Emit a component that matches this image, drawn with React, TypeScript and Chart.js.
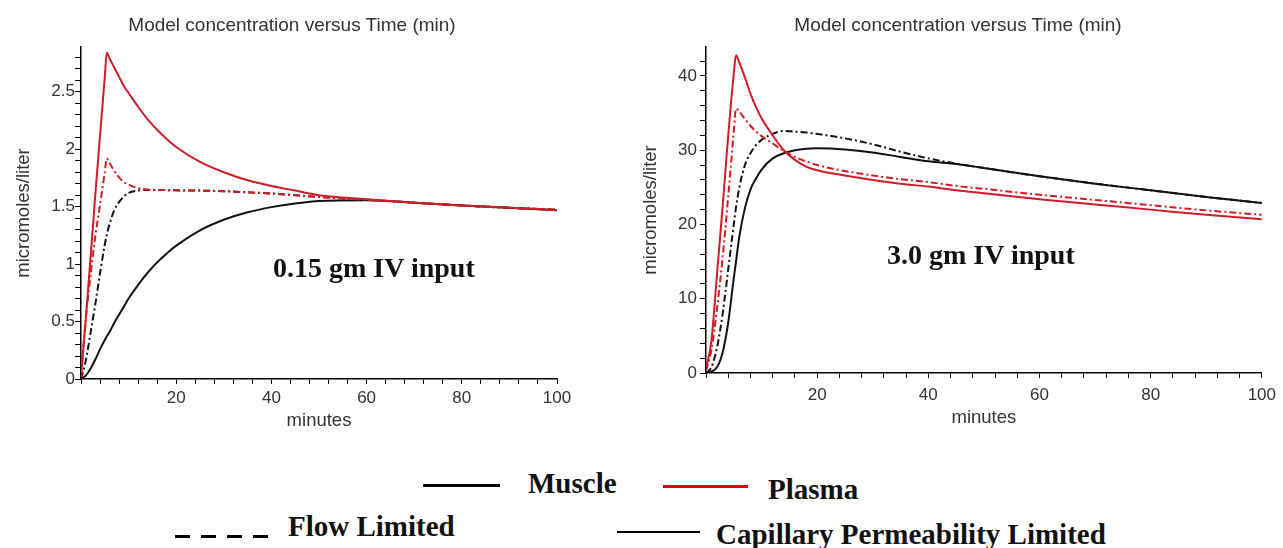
import React, { useEffect, useRef } from "react";
import { Chart, registerables } from "chart.js";

Chart.register(...registerables);

// ---------- data ----------
const TIME_MIN = [0, 1, 2, 3, 4, 5, 5.4, 6, 7, 8, 9, 10, 12, 14, 16, 18, 20, 25, 30, 35, 40, 45, 50, 60, 70, 80, 90, 100];

// 0.15 gm IV input (micromoles/liter)
const LOW_PLASMA_CAPILLARY = [0.02, 0.52, 1.05, 1.6, 2.12, 2.63, 2.84, 2.79, 2.71, 2.63, 2.55, 2.49, 2.37, 2.26, 2.17, 2.09, 2.02, 1.89, 1.8, 1.73, 1.68, 1.64, 1.6, 1.565, 1.535, 1.51, 1.49, 1.47];
const LOW_PLASMA_FLOW = [0.02, 0.52, 0.9, 1.24, 1.52, 1.8, 1.92, 1.88, 1.81, 1.755, 1.715, 1.69, 1.662, 1.65, 1.646, 1.644, 1.642, 1.64, 1.635, 1.625, 1.615, 1.6, 1.585, 1.56, 1.535, 1.51, 1.49, 1.475];
const LOW_MUSCLE_FLOW = [0, 0.16, 0.4, 0.65, 0.92, 1.17, 1.25, 1.35, 1.47, 1.54, 1.59, 1.62, 1.64, 1.646, 1.646, 1.644, 1.642, 1.64, 1.635, 1.625, 1.615, 1.6, 1.585, 1.56, 1.535, 1.51, 1.49, 1.475];
const LOW_MUSCLE_CAPILLARY = [0, 0.03, 0.09, 0.17, 0.26, 0.34, 0.37, 0.41, 0.49, 0.56, 0.63, 0.7, 0.82, 0.925, 1.015, 1.093, 1.161, 1.294, 1.386, 1.451, 1.496, 1.528, 1.55, 1.557, 1.535, 1.51, 1.49, 1.47];

// 3.0 gm IV input (micromoles/liter)
const HIGH_PLASMA_CAPILLARY = [0.5, 4.5, 13.5, 22.5, 32.0, 40.3, 42.8, 41.8, 39.8, 37.6, 35.8, 34.3, 32.0, 30.0, 28.7, 27.8, 27.3, 26.6, 26.0, 25.5, 25.1, 24.6, 24.2, 23.4, 22.7, 22.0, 21.3, 20.7];
const HIGH_PLASMA_FLOW = [0.3, 3.2, 8.8, 15.6, 23.8, 32.5, 35.6, 35.2, 34.2, 33.3, 32.5, 31.9, 30.9, 29.9, 29.1, 28.5, 28.0, 27.2, 26.6, 26.1, 25.7, 25.2, 24.8, 24.0, 23.3, 22.6, 21.9, 21.3];
const HIGH_MUSCLE_FLOW = [0, 0.8, 3.5, 8.0, 14.0, 20.0, 22.3, 25.0, 28.0, 29.6, 30.7, 31.4, 32.2, 32.6, 32.5, 32.4, 32.2, 31.6, 30.8, 29.8, 28.9, 28.2, 27.6, 26.5, 25.5, 24.6, 23.7, 22.9];
const HIGH_MUSCLE_CAPILLARY = [0, 0.2, 0.8, 2.8, 6.8, 12.8, 15.0, 18.4, 22.2, 24.7, 26.2, 27.4, 28.9, 29.6, 30.0, 30.2, 30.25, 30.1, 29.7, 29.1, 28.5, 28.15, 27.6, 26.5, 25.5, 24.6, 23.7, 22.9];

const X_LABEL_TICKS = [20, 40, 60, 80, 100];
const LOW_Y_LABEL_TICKS = [0, 0.5, 1, 1.5, 2, 2.5];
const HIGH_Y_LABEL_TICKS = [0, 10, 20, 30, 40];

const TITLE_TEXT = "Model concentration versus Time (min)";
const X_TITLE = "minutes";
const Y_TITLE = "micromoles/liter";

// ---------- styles ----------
const RED = "#cf1d27";
const BLACK = "#121212";
const DASH_DOT = [7, 3, 2, 3];
const SANS = "'Liberation Sans', Arial, sans-serif";
const SERIF = "'Liberation Serif', 'Times New Roman', serif";

type PanelSpec = {
  left: number;
  width: number;
  height: number;
  yMax: number;
  yStep: number;
  yLabels: number[];
  plasmaCap: number[];
  plasmaFlow: number[];
  muscleFlow: number[];
  muscleCap: number[];
  yScaleWidth: number;
  xScaleHeight: number;
  padTop: number;
  padRight: number;
  yTickPad: number;
  xTickPad: number;
  yTitlePad: number;
  xTitlePad: number;
};

const near = (v: number, list: number[]) => list.some((l) => Math.abs(l - v) < 1e-6);

function pts(vals: number[]) {
  return TIME_MIN.map((t, i) => ({ x: t, y: vals[i] }));
}

function makeConfig(s: PanelSpec): any {
  const line = (label: string, vals: number[], color: string, dashed: boolean) => ({
    label,
    data: pts(vals),
    borderColor: color,
    backgroundColor: color,
    borderWidth: 2,
    borderDash: dashed ? DASH_DOT : [],
    pointRadius: 0,
    fill: false,
    cubicInterpolationMode: "monotone",
  });
  const tickFont = { family: SANS, size: 17 };
  const titleFont = { family: SANS, size: 18.5 };
  return {
    type: "line",
    data: {
      datasets: [
        line("Plasma, capillary permeability limited", s.plasmaCap, RED, false),
        line("Plasma, flow limited", s.plasmaFlow, RED, true),
        line("Muscle, flow limited", s.muscleFlow, BLACK, true),
        line("Muscle, capillary permeability limited", s.muscleCap, BLACK, false),
      ],
    },
    options: {
      animation: false,
      responsive: false,
      maintainAspectRatio: false,
      layout: { padding: { top: s.padTop, right: s.padRight, left: 0, bottom: 0 } },
      plugins: { legend: { display: false }, tooltip: { enabled: false }, title: { display: false } },
      scales: {
        x: {
          type: "linear",
          min: 0,
          max: 100,
          ticks: {
            stepSize: 4,
            autoSkip: false,
            includeBounds: false,
            maxRotation: 0,
            padding: s.xTickPad,
            font: tickFont,
            color: "#333",
            callback: (v: number) => (near(v, X_LABEL_TICKS) ? String(v) : ""),
          },
          grid: { display: true, drawOnChartArea: false, drawTicks: true, tickLength: 5, tickColor: "#000", tickWidth: 1 },
          border: { display: true, color: "#000", width: 1.5 },
          title: { display: true, text: X_TITLE, font: titleFont, color: "#333", padding: { top: 0, bottom: s.xTitlePad } },
          afterFit: (sc: any) => {
            sc.height = s.xScaleHeight;
          },
        },
        y: {
          type: "linear",
          min: 0,
          max: s.yMax,
          ticks: {
            stepSize: s.yStep,
            autoSkip: false,
            includeBounds: false,
            padding: s.yTickPad,
            font: tickFont,
            color: "#333",
            callback: (v: number) => (near(v, s.yLabels) ? String(Math.round(v * 10) / 10) : ""),
          },
          grid: { display: true, drawOnChartArea: false, drawTicks: true, tickLength: 6, tickColor: "#000", tickWidth: 1 },
          border: { display: true, color: "#000", width: 1.5 },
          title: { display: true, text: Y_TITLE, font: titleFont, color: "#333", padding: { top: s.yTitlePad, bottom: 0 } },
          afterFit: (sc: any) => {
            sc.width = s.yScaleWidth;
          },
        },
      },
    },
  };
}

const LEFT_PANEL: PanelSpec = {
  left: 0,
  width: 640,
  height: 440,
  yMax: 2.89,
  yStep: 0.1,
  yLabels: LOW_Y_LABEL_TICKS,
  plasmaCap: LOW_PLASMA_CAPILLARY,
  plasmaFlow: LOW_PLASMA_FLOW,
  muscleFlow: LOW_MUSCLE_FLOW,
  muscleCap: LOW_MUSCLE_CAPILLARY,
  yScaleWidth: 81,
  xScaleHeight: 61,
  padTop: 47,
  padRight: 83,
  yTickPad: 0,
  xTickPad: 4,
  yTitlePad: 13,
  xTitlePad: 8,
};

const RIGHT_PANEL: PanelSpec = {
  left: 640,
  width: 643,
  height: 440,
  yMax: 43.9,
  yStep: 2,
  yLabels: HIGH_Y_LABEL_TICKS,
  plasmaCap: HIGH_PLASMA_CAPILLARY,
  plasmaFlow: HIGH_PLASMA_FLOW,
  muscleFlow: HIGH_MUSCLE_FLOW,
  muscleCap: HIGH_MUSCLE_CAPILLARY,
  yScaleWidth: 66,
  xScaleHeight: 67,
  padTop: 47,
  padRight: 19,
  yTickPad: 3,
  xTickPad: 7,
  yTitlePad: 0,
  xTitlePad: 11,
};

function Panel({ spec }: { spec: PanelSpec }) {
  const ref = useRef<HTMLCanvasElement | null>(null);
  useEffect(() => {
    if (!ref.current) return;
    const chart = new Chart(ref.current, makeConfig(spec));
    return () => chart.destroy();
  }, [spec]);
  return (
    <canvas
      ref={ref}
      width={spec.width}
      height={spec.height}
      style={{ position: "absolute", left: spec.left, top: 0, width: spec.width, height: spec.height }}
    />
  );
}

const abs = (o: React.CSSProperties): React.CSSProperties => ({ position: "absolute", whiteSpace: "nowrap", ...o });

export default function App() {
  const titleStyle = (cx: number): React.CSSProperties =>
    abs({ left: cx - 250, width: 500, top: 14, lineHeight: "22px", fontSize: 19, fontFamily: SANS, color: "#333", textAlign: "center" });
  const noteStyle = (left: number, top: number): React.CSSProperties =>
    abs({ left, top, lineHeight: "28px", fontSize: 28, fontWeight: "bold", fontFamily: SERIF, color: "#111" });
  const legendText = (left: number, top: number): React.CSSProperties =>
    abs({ left, top, lineHeight: "29px", fontSize: 29, fontWeight: "bold", fontFamily: SERIF, color: "#111" });
  return (
    <div style={{ position: "absolute", left: 0, top: 0, width: 1283, height: 548, background: "#fff", overflow: "hidden" }}>
      <Panel spec={LEFT_PANEL} />
      <Panel spec={RIGHT_PANEL} />
      <div style={titleStyle(292)}>{TITLE_TEXT}</div>
      <div style={titleStyle(958)}>{TITLE_TEXT}</div>
      <div style={noteStyle(273, 254)}>0.15 gm IV input</div>
      <div style={noteStyle(887, 241)}>3.0 gm IV input</div>

      <div style={abs({ left: 423, top: 484, width: 77, height: 3, background: "#000" })} />
      <div style={legendText(528, 469)}>Muscle</div>
      <div style={abs({ left: 663, top: 485, width: 85, height: 3, background: "#e00000" })} />
      <div style={legendText(768, 475)}>Plasma</div>
      <div
        style={abs({
          left: 175,
          top: 535,
          width: 93,
          height: 3,
          background: "repeating-linear-gradient(90deg, #000 0px, #000 15px, transparent 15px, transparent 26px)",
        })}
      />
      <div style={legendText(288, 512)}>Flow Limited</div>
      <div style={abs({ left: 617, top: 531, width: 83, height: 1.5, background: "#000" })} />
      <div style={legendText(716, 520)}>Capillary Permeability Limited</div>
    </div>
  );
}
